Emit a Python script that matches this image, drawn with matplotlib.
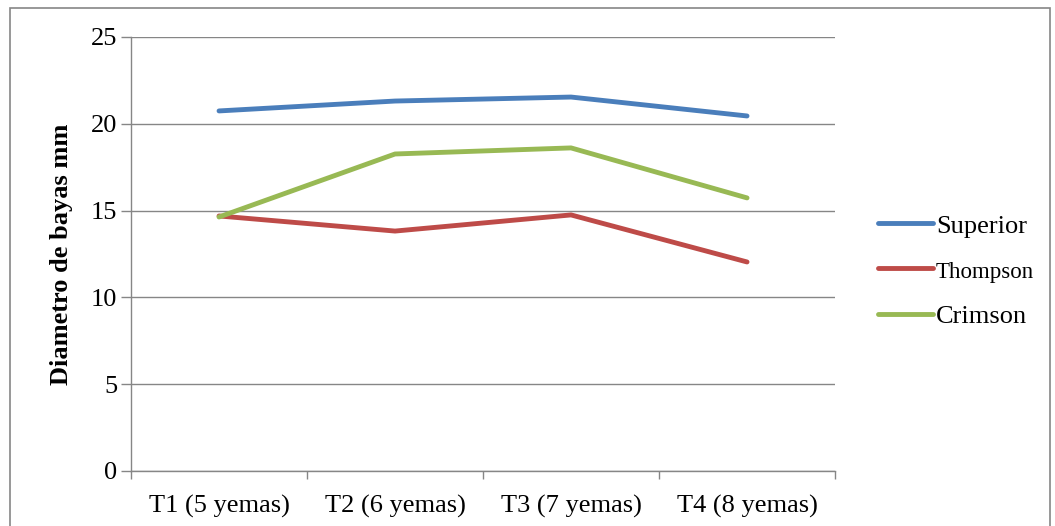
import matplotlib.pyplot as plt
from matplotlib.patches import Rectangle

# ─── Datos ───────────────────────────────────────────────────────────────────

tratamientos = ['T1 (5 yemas)', 'T2 (6 yemas)', 'T3 (7 yemas)', 'T4 (8 yemas)']
superior = [20.74, 21.31, 21.54, 20.45]
thompson = [14.69, 13.82, 14.75, 12.04]
crimson  = [14.63, 18.26, 18.61, 15.73]

plt.rcParams['font.family'] = ['Liberation Serif', 'DejaVu Serif']

fig = plt.figure(figsize=(10.55, 5.26), dpi=100)
ax = fig.add_axes([0.1242, 0.1046, 0.6673, 0.8251])

x = range(len(tratamientos))
l1, = ax.plot(x, superior, color='#4A7EBB', lw=3.5, solid_capstyle='round', label='Superior')
l2, = ax.plot(x, thompson, color='#BE4B48', lw=3.5, solid_capstyle='round', label='Thompson')
l3, = ax.plot(x, crimson,  color='#98B954', lw=3.5, solid_capstyle='round', label='Crimson')

ax.set_xlim(-0.5, len(tratamientos) - 0.5)
ax.set_ylim(0, 25)
ax.set_yticks(range(0, 26, 5))
ax.set_xticks(list(x))
ax.set_xticklabels(tratamientos)
ax.set_xticks([i - 0.5 for i in range(len(tratamientos) + 1)], minor=True)
ax.tick_params(axis='x', which='major', length=0, pad=17, labelsize=19)
ax.tick_params(axis='x', which='minor', length=6, color='#868686', width=1)
ax.tick_params(axis='y', length=7, color='#868686', width=1, labelsize=19, pad=3)

ax.grid(axis='y', color='#868686', lw=1)
ax.set_axisbelow(True)
for s in ['top', 'right']:
    ax.spines[s].set_visible(False)
for s in ['left', 'bottom']:
    ax.spines[s].set_color('#868686')
    ax.spines[s].set_linewidth(1)

ax.set_ylabel('Diametro de bayas mm', fontsize=19, fontweight='bold', labelpad=13)

leg = fig.legend(handles=[l1, l2, l3], loc='center left', bbox_to_anchor=(0.822, 0.485),
                 frameon=False, fontsize=19, handlelength=2.1, handletextpad=0.1,
                 labelspacing=0.82, borderaxespad=0)
leg.get_texts()[1].set_fontsize(16.5)

# borde exterior del grafico
fig.patches.append(Rectangle((10 / 1055, -0.05), 1040 / 1055, 1.05 - 8 / 526,
                             transform=fig.transFigure, fill=False,
                             edgecolor='#868686', lw=1.2))

plt.savefig('out.png', dpi=100)
plt.close()
